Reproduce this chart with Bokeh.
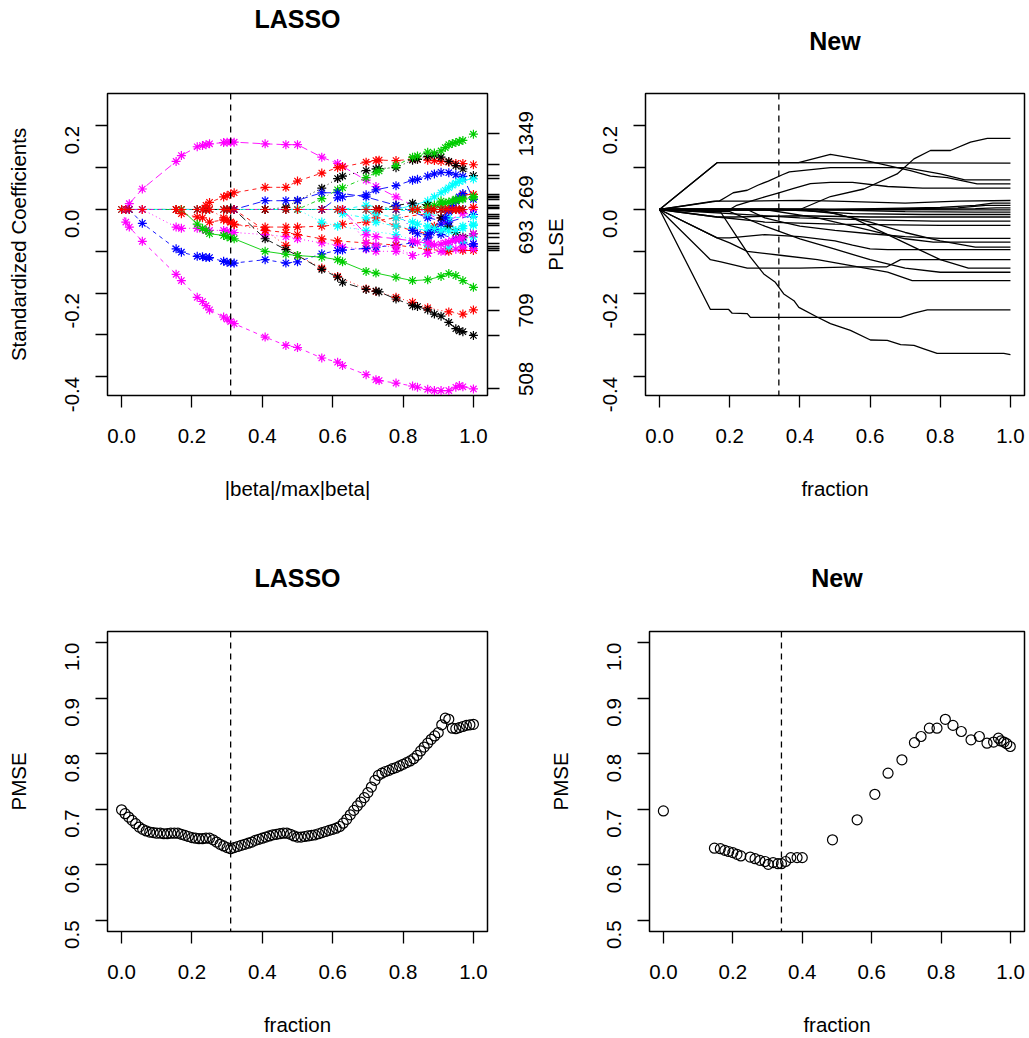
import math
from bokeh.plotting import figure
from bokeh.models import Range1d, FixedTicker, LinearAxis, Span
from bokeh.layouts import column, row
from bokeh.core.properties import value
from bokeh.embed import file_html
from bokeh.resources import INLINE

FONT = "Liberation Sans"
TXT = "20.5px"

# ---------------- data ----------------
x_ticks = [0.0, 0.2, 0.4, 0.6, 0.8, 1.0]
x_tick_labels = ["0.0", "0.2", "0.4", "0.6", "0.8", "1.0"]
coef_ticks = [-0.4, -0.3, -0.2, -0.1, 0.0, 0.1, 0.2]
coef_tick_labels = ["-0.4", "", "-0.2", "", "0.0", "", "0.2"]
pmse_ticks = [0.5, 0.6, 0.7, 0.8, 0.9, 1.0]
pmse_tick_labels = ["0.5", "0.6", "0.7", "0.8", "0.9", "1.0"]

lasso_cut = 0.31
new_cut = 0.34

# right axis of the LASSO path plot
plse_ticks = [0.181, 0.1076, 0.081, 0.073, 0.036, 0.031, 0.028, 0.024, 0.0096, 0.0056,
              0.0016, -0.012, -0.0167, -0.022, -0.0327, -0.038, -0.058, -0.066, -0.082,
              -0.088, -0.094, -0.098, -0.186, -0.2415, -0.301, -0.427]
plse_label_at = [0.181, 0.041, -0.066, -0.2415, -0.405]
plse_label_text = ["1349", "269", "693", "709", "508"]

# LASSO coefficient paths (breakpoints)
lasso_zero_x = [0.0, 0.012, 0.022, 0.059, 0.155, 0.17, 0.215, 0.23, 0.24, 0.25, 0.29, 0.30,
                0.31, 0.32, 0.408, 0.467, 0.5, 0.569, 0.614, 0.628, 0.695, 0.723, 0.732,
                0.78, 0.827, 0.841, 0.87, 0.88, 0.889, 0.908, 0.92, 0.93, 0.94, 0.95, 0.96, 0.97]

v01_x = [0.0, 0.012, 0.022, 0.059, 0.155, 0.17, 0.215, 0.23, 0.24, 0.25, 0.29, 0.30, 0.31, 0.32,
         0.408, 0.467, 0.5, 0.569, 0.614, 0.628, 0.695, 0.723, 0.78, 0.827, 0.87, 0.92, 0.97, 1.0]
v01_y = [0.0, 0.0, 0.014, 0.049, 0.115, 0.129, 0.150, 0.153, 0.155, 0.157, 0.160, 0.161, 0.161, 0.161,
         0.157, 0.155, 0.155, 0.125, 0.110, 0.103, 0.070, 0.055, 0.030, 0.010, -0.010, -0.030, -0.010, 0.0]
v02_x = [0.0, 0.012, 0.022, 0.059, 0.155, 0.17, 0.215, 0.23, 0.24, 0.25, 0.29, 0.30, 0.31, 0.32,
         0.408, 0.467, 0.5, 0.569, 0.614, 0.628, 0.695, 0.723, 0.732, 0.78, 0.827, 0.841, 0.87,
         0.889, 0.908, 0.93, 0.95, 0.96, 0.97, 1.0]
v02_y = [0.0, -0.030, -0.042, -0.076, -0.155, -0.170, -0.210, -0.220, -0.230, -0.240, -0.257, -0.262,
         -0.268, -0.273, -0.305, -0.325, -0.330, -0.355, -0.365, -0.373, -0.395, -0.407, -0.409,
         -0.415, -0.422, -0.425, -0.430, -0.433, -0.433, -0.433, -0.425, -0.421, -0.424, -0.429]
v03_x = [0.0, 0.059, 0.155, 0.17, 0.215, 0.23, 0.24, 0.25, 0.29, 0.30, 0.31, 0.32, 0.408, 0.467,
         0.5, 0.569, 0.614, 0.628, 0.695, 0.723, 0.78, 0.827, 0.87, 0.92, 0.97, 1.0]
v03_y = [0.0, 0.0, -0.042, -0.045, -0.045, -0.047, -0.050, -0.050, -0.050, -0.052, -0.055, -0.055,
         -0.060, -0.065, -0.070, -0.080, -0.085, -0.090, -0.095, -0.100, -0.100, -0.110, -0.105,
         -0.100, -0.095, -0.082]
v04_x = [0.0, 0.022, 0.059, 0.155, 0.17, 0.215, 0.23, 0.24, 0.25, 0.29, 0.30, 0.31, 0.32, 0.408,
         0.467, 0.5, 0.569, 0.614, 0.628, 0.695, 0.723, 0.78, 0.827, 0.87, 0.908, 0.95, 0.97, 1.0]
v04_y = [0.0, 0.0, -0.033, -0.094, -0.102, -0.112, -0.113, -0.115, -0.115, -0.124, -0.126, -0.128,
         -0.128, -0.120, -0.128, -0.125, -0.106, -0.098, -0.097, -0.093, -0.090, -0.085, -0.080,
         -0.070, -0.060, -0.070, -0.080, -0.088]
v05_x = [0.0, 0.23, 0.24, 0.25, 0.29, 0.30, 0.31, 0.32, 0.408, 0.467, 0.5, 0.569, 0.614, 0.628,
         0.695, 0.723, 0.732, 0.78, 0.827, 0.841, 0.87, 0.889, 0.908, 0.93, 0.95, 0.97, 1.0]
v05_y = [0.0, 0.0, 0.010, 0.017, 0.030, 0.033, 0.037, 0.040, 0.053, 0.053, 0.068, 0.087, 0.100,
         0.102, 0.113, 0.117, 0.118, 0.117, 0.120, 0.120, 0.118, 0.117, 0.115, 0.113, 0.110, 0.110, 0.107]
v06_x = [0.0, 0.408, 0.467, 0.5, 0.569, 0.614, 0.628, 0.695, 0.723, 0.732, 0.78, 0.827, 0.841,
         0.87, 0.889, 0.908, 0.93, 0.95, 0.97, 1.0]
v06_y = [0.0, 0.0, 0.005, 0.021, 0.051, 0.074, 0.080, 0.093, 0.097, 0.098, 0.100, 0.118, 0.120,
         0.127, 0.130, 0.125, 0.115, 0.105, 0.097, 0.081]
v07_x = [0.0, 0.5, 0.569, 0.614, 0.628, 0.695, 0.723, 0.732, 0.78, 0.827, 0.841, 0.87, 0.889,
         0.908, 0.92, 0.93, 0.94, 0.95, 0.96, 0.97, 1.0]
v07_y = [0.0, 0.0, 0.026, 0.047, 0.052, 0.076, 0.089, 0.092, 0.105, 0.125, 0.128, 0.137, 0.135,
         0.140, 0.148, 0.155, 0.158, 0.160, 0.163, 0.165, 0.180]
v08_x = [0.0, 0.569, 0.614, 0.628, 0.695, 0.723, 0.78, 0.827, 0.841, 0.87, 0.889, 0.908, 0.93,
         0.95, 0.97, 1.0]
v08_y = [0.0, 0.0, 0.028, 0.030, 0.035, 0.047, 0.057, 0.070, 0.072, 0.080, 0.085, 0.089, 0.088,
         0.083, 0.079, 0.024]
v09_x = [0.0, 0.78, 0.827, 0.87, 0.889, 0.908, 0.92, 0.93, 0.94, 0.95, 0.96, 0.97, 1.0]
v09_y = [0.0, 0.0, 0.010, 0.020, 0.030, 0.040, 0.046, 0.052, 0.058, 0.063, 0.067, 0.070, 0.073]
v10_x = [0.0, 0.695, 0.723, 0.78, 0.827, 0.87, 0.889, 0.908, 0.93, 0.95, 0.97, 1.0]
v10_y = [0.0, 0.0, -0.020, -0.040, -0.050, -0.058, -0.040, -0.020, 0.0, 0.020, 0.035, 0.036]
v11_x = [0.0, 0.827, 0.87, 0.908, 0.95, 0.97, 1.0]
v11_y = [0.0, 0.0, 0.010, 0.020, 0.025, 0.027, 0.028]
v12_x = [0.0, 0.155, 0.17, 0.215, 0.23, 0.25, 0.29, 0.31, 0.32, 0.408, 0.467, 0.5, 0.569, 0.628,
         0.695, 0.78, 0.87, 0.95, 1.0]
v12_y = [0.0, 0.0, -0.010, -0.018, -0.020, -0.030, -0.025, -0.030, -0.036, -0.042, -0.042, -0.042,
         -0.040, -0.035, -0.030, -0.020, -0.010, 0.0, 0.005]
v13_x = [0.0, 0.614, 0.628, 0.695, 0.723, 0.78, 0.827, 0.87, 0.92, 0.97, 1.0]
v13_y = [0.0, 0.0, -0.010, -0.020, -0.030, -0.040, -0.045, -0.050, -0.045, -0.040, -0.035]
v14_x = [0.0, 0.25, 0.29, 0.30, 0.31, 0.32, 0.408, 0.467, 0.5, 0.569, 0.614, 0.695, 0.723, 0.78,
         0.827, 0.87, 0.93, 0.97, 1.0]
v14_y = [0.0, 0.0, -0.020, -0.025, -0.030, -0.035, -0.050, -0.086, -0.110, -0.140, -0.160, -0.190,
         -0.196, -0.210, -0.222, -0.235, -0.245, -0.250, -0.240]
v15_x = [0.0, 0.32, 0.408, 0.467, 0.5, 0.569, 0.614, 0.628, 0.695, 0.723, 0.732, 0.78, 0.827,
         0.841, 0.87, 0.889, 0.908, 0.93, 0.95, 0.96, 0.97, 1.0]
v15_y = [0.0, 0.0, -0.070, -0.096, -0.110, -0.143, -0.162, -0.174, -0.191, -0.195, -0.197, -0.214,
         -0.230, -0.232, -0.240, -0.250, -0.255, -0.270, -0.285, -0.290, -0.292, -0.301]
v16_x = [0.0, 0.17, 0.215, 0.23, 0.24, 0.25, 0.29, 0.30, 0.31, 0.32, 0.408, 0.467, 0.5, 0.569,
         0.614, 0.628, 0.695, 0.723, 0.78, 0.827, 0.87, 0.908, 0.93, 0.95, 0.97, 1.0]
v16_y = [0.0, 0.0, -0.035, -0.045, -0.050, -0.058, -0.062, -0.065, -0.068, -0.070, -0.100, -0.107,
         -0.110, -0.114, -0.120, -0.125, -0.148, -0.152, -0.162, -0.170, -0.168, -0.160, -0.153,
         -0.158, -0.170, -0.186]
v17_x = [0.0, 0.32, 0.408, 0.467, 0.5, 0.569, 0.614, 0.695, 0.78, 0.87, 0.93, 0.97, 1.0]
v17_y = [0.0, 0.0, -0.050, -0.055, -0.060, -0.070, -0.075, -0.080, -0.085, -0.095, -0.100, -0.098, -0.098]
v18_x = [0.0, 0.5, 0.569, 0.614, 0.695, 0.78, 0.87, 0.93, 0.97, 1.0]
v18_y = [0.0, 0.0, -0.030, -0.040, -0.050, -0.060, -0.085, -0.090, -0.075, -0.066]
v19_x = [0.0, 0.732, 0.78, 0.827, 0.87, 0.908, 0.93, 0.95, 0.97, 1.0]
v19_y = [0.0, 0.0, 0.010, 0.015, 0.010, -0.020, -0.040, -0.055, -0.066, -0.058]
v20_x = [0.0, 0.32, 0.408, 0.467, 0.5, 0.569, 0.614, 0.695, 0.78, 0.87, 0.93, 1.0]
v20_y = [0.0, 0.0, 0.021, 0.021, 0.022, 0.040, 0.040, 0.030, 0.010, -0.020, -0.030, -0.012]
v21_x = [0.0, 0.628, 0.695, 0.723, 0.78, 0.827, 0.87, 0.908, 0.95, 0.97, 1.0]
v21_y = [0.0, 0.0, -0.080, -0.085, -0.090, -0.110, -0.105, -0.100, -0.095, -0.090, -0.094]
v22_x = [0.0, 0.628, 0.695, 0.78, 0.87, 0.93, 1.0]
v22_y = [0.0, 0.0, 0.010, 0.0, -0.010, -0.020, -0.017]
v23_x = [0.0, 0.78, 0.827, 0.841, 0.87, 0.88, 0.889, 0.908, 0.92, 0.93, 0.94, 0.95, 0.96, 0.97, 1.0]
v23_y = [0.0, 0.0, -0.050, -0.058, -0.060, -0.055, -0.048, -0.035, -0.020, -0.005, 0.010, 0.020,
         0.030, 0.038, -0.082]
v24_x = [0.0, 0.628, 0.695, 0.723, 0.78, 0.827, 0.841, 0.87, 0.88, 0.889, 0.908, 0.92, 0.93, 0.94,
         0.95, 0.96, 0.97, 1.0]
v24_y = [0.0, 0.0, -0.060, -0.065, -0.070, -0.075, -0.078, -0.080, -0.082, -0.085, -0.083, -0.080,
         -0.078, -0.075, -0.072, -0.070, -0.068, -0.058]
v25_x = [0.0, 0.695, 0.723, 0.78, 0.827, 0.841, 0.87, 0.889, 0.908, 0.93, 0.95, 0.97, 1.0]
v25_y = [0.0, 0.0, -0.010, -0.020, -0.030, -0.035, -0.040, -0.045, -0.050, -0.052, -0.050, -0.045, -0.038]
v26_x = [0.0, 0.841, 0.87, 0.889, 0.908, 0.92, 0.93, 0.94, 0.95, 0.96, 0.97, 1.0]
v26_y = [0.0, 0.0, 0.005, 0.010, 0.012, 0.015, 0.018, 0.020, 0.022, 0.024, 0.025, 0.031]

lasso_vars_x = [v01_x, v02_x, v03_x, v04_x, v05_x, v06_x, v07_x, v08_x, v09_x, v10_x, v11_x,
                v12_x, v13_x, v14_x, v15_x, v16_x, v17_x, v18_x, v19_x, v20_x, v21_x, v22_x,
                v23_x, v24_x, v25_x, v26_x]
lasso_vars_y = [v01_y, v02_y, v03_y, v04_y, v05_y, v06_y, v07_y, v08_y, v09_y, v10_y, v11_y,
                v12_y, v13_y, v14_y, v15_y, v16_y, v17_y, v18_y, v19_y, v20_y, v21_y, v22_y,
                v23_y, v24_y, v25_y, v26_y]
lasso_colors = ["#FF00FF", "#FF00FF", "#FF00FF", "#0000FF", "#FF0000", "#000000", "#00CD00",
                "#0000FF", "#00FFFF", "#FF0000", "#00CD00", "#FF0000", "#00FFFF", "#FF0000",
                "#000000", "#00CD00", "#FF0000", "#00FFFF", "#000000", "#0000FF", "#FF00FF",
                "#00FFFF", "#0000FF", "#FF00FF", "#00FFFF", "#00CD00"]
lasso_dashes = ["8 4", "4 4", "1 3", "4 4", "4 4", "1 3", "1 3 4 3", "8 4", "solid", "4 4",
                "1 3", "4 4", "1 3 4 3", "1 3", "8 4", "solid", "4 4", "1 3", "1 3 4 3", "8 4",
                "1 3", "4 4", "1 3", "8 4", "4 4", "1 3"]

# "New" paths
n01_x = [0, 0.40, 0.487, 0.582, 0.677, 0.725, 0.772, 0.829, 0.886, 0.934, 1.0]
n01_y = [0, 0.0, 0.031, 0.049, 0.085, 0.121, 0.141, 0.141, 0.161, 0.170, 0.170]
n02_x = [0, 0.164, 1.0]
n02_y = [0, 0.112, 0.111]
n03_x = [0, 0.164, 0.396, 0.487, 0.582, 0.715, 0.772, 0.82, 0.905, 1.0]
n03_y = [0, 0.112, 0.112, 0.132, 0.118, 0.093, 0.080, 0.076, 0.061, 0.061]
n04_x = [0, 0.155, 0.17, 0.19, 0.21, 0.25, 0.28, 0.31, 0.35, 0.37, 0.487, 0.60, 0.70, 0.80, 0.87, 1.0]
n04_y = [0, 0.02, 0.02, 0.03, 0.04, 0.046, 0.058, 0.068, 0.083, 0.09, 0.1, 0.1, 0.1, 0.085, 0.071, 0.071]
n05_x = [0, 0.2, 0.22, 0.26, 0.3, 0.34, 0.38, 0.43, 0.487, 0.55, 0.65, 0.75, 1.0]
n05_y = [0, 0.0, 0.01, 0.02, 0.03, 0.04, 0.05, 0.062, 0.065, 0.065, 0.055, 0.051, 0.051]
n06_x = [0, 0.164, 0.25, 0.4, 0.5, 0.7, 0.85, 1.0]
n06_y = [0, 0.02, 0.02, 0.022, 0.02, 0.015, 0.02, 0.0215]
n07_x = [0, 0.5, 0.8, 0.9, 0.95, 1.0]
n07_y = [0, 0.0, 0.005, 0.01, 0.015, 0.015]
n08_x = [0, 0.6, 0.85, 0.93, 1.0]
n08_y = [0, 0.0, 0.004, 0.0096, 0.0096]
n09_x = [0, 0.7, 0.9, 0.96, 1.0]
n09_y = [0, 0.0, 0.002, 0.004, 0.004]
n10_x = [0, 1.0]
n10_y = [0, -0.0008]
n11_x = [0, 0.45, 0.7, 0.9, 1.0]
n11_y = [0, 0.0, -0.005, -0.0064, -0.0064]
n12_x = [0, 0.35, 0.55, 0.75, 1.0]
n12_y = [0, 0.0, -0.01, -0.012, -0.012]
n13_x = [0, 0.164, 0.215, 0.4, 0.6, 0.8, 1.0]
n13_y = [0, -0.018, -0.018, -0.015, -0.018, -0.018, -0.018]
n14_x = [0, 0.2, 0.4, 0.6, 0.78, 1.0]
n14_y = [0, -0.01, -0.02, -0.025, -0.028, -0.028]
n15_x = [0, 0.164, 0.3, 0.5, 0.8, 1.0]
n15_y = [0, -0.018, -0.03, -0.035, -0.038, -0.038]
n16_x = [0, 0.25, 0.3, 0.35, 0.4, 0.5, 0.6, 0.7, 0.8, 1.0]
n16_y = [0, 0.0, -0.02, -0.03, -0.04, -0.05, -0.058, -0.065, -0.069, -0.069]
n17_x = [0, 0.3, 0.45, 0.6, 0.7, 0.78, 1.0]
n17_y = [0, 0.0, -0.02, -0.05, -0.07, -0.078, -0.078]
n18_x = [0, 0.4, 0.5, 0.6, 0.7, 0.8, 0.9, 1.0]
n18_y = [0, 0.0, -0.01, -0.03, -0.055, -0.075, -0.09, -0.09]
n19_x = [0, 0.164, 0.2, 0.3, 0.4, 0.5, 0.55, 0.6, 0.65, 1.0]
n19_y = [0, -0.068, -0.068, -0.06, -0.065, -0.075, -0.085, -0.094, -0.096, -0.096]
n20_x = [0, 0.145, 0.175, 0.25, 0.4, 0.56, 0.648, 0.687, 1.0]
n20_y = [0, -0.12, -0.125, -0.14, -0.14, -0.137, -0.137, -0.12, -0.12]
n21_x = [0, 0.45, 0.55, 0.65, 0.75, 0.8, 0.88, 1.0]
n21_y = [0, 0.0, -0.02, -0.06, -0.1, -0.12, -0.14, -0.14]
n22_x = [0, 0.2, 0.3, 0.4, 0.5, 0.6, 0.7, 0.8, 1.0]
n22_y = [0, -0.005, -0.04, -0.07, -0.095, -0.12, -0.14, -0.15, -0.15]
n23_x = [0, 0.164, 0.2, 0.25, 0.35, 0.45, 0.55, 0.65, 0.72, 1.0]
n23_y = [0, -0.068, -0.08, -0.1, -0.11, -0.12, -0.135, -0.15, -0.17, -0.17]
n24_x = [0, 0.145, 0.197, 0.207, 0.25, 0.259, 0.544, 0.687, 0.725, 0.763, 1.0]
n24_y = [0, -0.239, -0.239, -0.248, -0.249, -0.258, -0.258, -0.258, -0.248, -0.24, -0.24]
n25_x = [0, 0.174, 0.221, 0.259, 0.297, 0.33, 0.354, 0.383, 0.397, 0.449, 0.487, 0.544, 0.601,
         0.649, 0.687, 0.725, 0.753, 0.791, 0.981, 1.0]
n25_y = [0, -0.006, -0.066, -0.114, -0.154, -0.174, -0.202, -0.218, -0.234, -0.257, -0.273, -0.289,
         -0.312, -0.313, -0.323, -0.325, -0.333, -0.344, -0.344, -0.347]

new_paths_x = [n01_x, n02_x, n03_x, n04_x, n05_x, n06_x, n07_x, n08_x, n09_x, n10_x, n11_x, n12_x,
               n13_x, n14_x, n15_x, n16_x, n17_x, n18_x, n19_x, n20_x, n21_x, n22_x, n23_x, n24_x, n25_x]
new_paths_y = [n01_y, n02_y, n03_y, n04_y, n05_y, n06_y, n07_y, n08_y, n09_y, n10_y, n11_y, n12_y,
               n13_y, n14_y, n15_y, n16_y, n17_y, n18_y, n19_y, n20_y, n21_y, n22_y, n23_y, n24_y, n25_y]

# PMSE curves
lasso_frac = [0.00, 0.01, 0.02, 0.03, 0.04, 0.05, 0.06, 0.07, 0.08, 0.09,
              0.10, 0.11, 0.12, 0.13, 0.14, 0.15, 0.16, 0.17, 0.18, 0.19,
              0.20, 0.21, 0.22, 0.23, 0.24, 0.25, 0.26, 0.27, 0.28, 0.29,
              0.30, 0.31, 0.32, 0.33, 0.34, 0.35, 0.36, 0.37, 0.38, 0.39,
              0.40, 0.41, 0.42, 0.43, 0.44, 0.45, 0.46, 0.47, 0.48, 0.49,
              0.50, 0.51, 0.52, 0.53, 0.54, 0.55, 0.56, 0.57, 0.58, 0.59,
              0.60, 0.61, 0.62, 0.63, 0.64, 0.65, 0.66, 0.67, 0.68, 0.69,
              0.70, 0.71, 0.72, 0.73, 0.74, 0.75, 0.76, 0.77, 0.78, 0.79,
              0.80, 0.81, 0.82, 0.83, 0.84, 0.85, 0.86, 0.87, 0.88, 0.89,
              0.90, 0.91, 0.92, 0.93, 0.94, 0.95, 0.96, 0.97, 0.98, 0.99, 1.00]
lasso_pmse = [0.699, 0.692, 0.686, 0.680, 0.674, 0.668, 0.664, 0.661, 0.659, 0.658,
              0.657, 0.657, 0.656, 0.656, 0.657, 0.657, 0.657, 0.655, 0.653, 0.651,
              0.649, 0.648, 0.647, 0.647, 0.648, 0.648, 0.645, 0.641, 0.637, 0.634,
              0.631, 0.629, 0.631, 0.633, 0.635, 0.637, 0.639, 0.641, 0.644, 0.646,
              0.648, 0.650, 0.652, 0.654, 0.655, 0.656, 0.657, 0.657, 0.655, 0.652,
              0.650, 0.650, 0.651, 0.652, 0.653, 0.654, 0.656, 0.658, 0.660, 0.662,
              0.664, 0.666, 0.669, 0.675, 0.682, 0.690, 0.698, 0.706, 0.713, 0.721,
              0.730, 0.740, 0.752, 0.761, 0.765, 0.768, 0.770, 0.773, 0.775, 0.778,
              0.781, 0.784, 0.787, 0.791, 0.797, 0.805, 0.812, 0.819, 0.826, 0.832,
              0.838, 0.852, 0.864, 0.862, 0.846, 0.845, 0.847, 0.849, 0.851, 0.852, 0.853]

new_frac = [0.0, 0.147, 0.164, 0.177, 0.188, 0.200, 0.212, 0.223, 0.250, 0.264, 0.278, 0.293,
            0.302, 0.316, 0.330, 0.340, 0.352, 0.367, 0.385, 0.400, 0.487, 0.558, 0.609, 0.647,
            0.687, 0.723, 0.742, 0.766, 0.788, 0.812, 0.834, 0.858, 0.886, 0.910, 0.932, 0.951,
            0.965, 0.972, 0.981, 0.989, 0.999]
new_pmse = [0.697, 0.630, 0.629, 0.626, 0.624, 0.622, 0.619, 0.616, 0.614, 0.611, 0.608, 0.606,
            0.601, 0.604, 0.602, 0.602, 0.606, 0.613, 0.613, 0.613, 0.645, 0.681, 0.727, 0.765,
            0.789, 0.820, 0.831, 0.846, 0.846, 0.862, 0.851, 0.840, 0.825, 0.831, 0.819, 0.821,
            0.828, 0.823, 0.821, 0.818, 0.813]

# ---------------- helpers ----------------
X_RANGE = (-0.04, 1.04)
COEF_RANGE = (-0.4447, 0.2773)
PMSE_RANGE = (0.48, 1.02)


def make_fig(width, height, left, right, top, bottom, yr):
    p = figure(width=width, height=height, x_range=Range1d(*X_RANGE), y_range=Range1d(*yr),
               output_backend="svg", toolbar_location=None, title_location=None,
               min_border_left=left, min_border_right=right,
               min_border_top=top, min_border_bottom=bottom)
    p.outline_line_color = "black"
    p.outline_line_width = 1.5
    p.xgrid.visible = False
    p.ygrid.visible = False
    p.background_fill_color = "white"
    p.border_fill_color = "white"
    return p


def add_title(p, text, standoff):
    ax = LinearAxis(ticker=FixedTicker(ticks=[], minor_ticks=[]))
    ax.axis_line_color = None
    ax.major_tick_line_color = None
    ax.minor_tick_line_color = None
    ax.major_tick_out = 0
    ax.major_tick_in = 0
    ax.major_label_standoff = 0
    ax.axis_label = text
    ax.axis_label_text_font = FONT
    ax.axis_label_text_font_size = "25px"
    ax.axis_label_text_font_style = "bold"
    ax.axis_label_text_color = "black"
    ax.axis_label_standoff = standoff
    p.add_layout(ax, "above")


def style_axis(ax, ticks, labels, label, tick_standoff, label_standoff, vertical):
    ax.ticker = FixedTicker(ticks=ticks, minor_ticks=[])
    ax.major_label_overrides = {t: s for t, s in zip(ticks, labels)}
    ax.axis_line_color = None
    ax.major_tick_line_color = "black"
    ax.major_tick_line_width = 1.3
    ax.major_tick_in = 0
    ax.major_tick_out = 12
    ax.minor_tick_line_color = None
    ax.major_label_text_font = FONT
    ax.major_label_text_font_size = TXT
    ax.major_label_text_color = "black"
    ax.major_label_standoff = tick_standoff
    if vertical:
        ax.major_label_orientation = math.pi / 2
    if label is not None:
        ax.axis_label = label
        ax.axis_label_text_font = FONT
        ax.axis_label_text_font_size = TXT
        ax.axis_label_text_font_style = "normal"
        ax.axis_label_text_color = "black"
        ax.axis_label_standoff = label_standoff


def vline(p, x):
    p.add_layout(Span(location=x, dimension="height", line_color="black",
                      line_dash="6 5", line_width=1.3))


def setup(p, title, title_standoff, xlabel, ylabel, yticks, ylabels):
    bottom_axis = p.below[0]
    left_axis = p.left[0]
    style_axis(bottom_axis, x_ticks, x_tick_labels, xlabel, 21, 31, False)
    style_axis(left_axis, yticks, ylabels, ylabel, 23, 26, True)
    add_title(p, title, title_standoff)


# ---------------- top-left: LASSO paths ----------------
pA = make_fig(507, 528, 107, 20, 93, 133, COEF_RANGE)
setup(pA, "LASSO", 61, "|beta|/max|beta|", "Standardized Coefficients", coef_ticks, coef_tick_labels)
rax = LinearAxis()
style_axis(rax, plse_ticks, [""] * len(plse_ticks), None, 0, 0, False)
pA.add_layout(rax, "right")

pA.line([lasso_zero_x[0], 1.0], [0.0, 0.0], line_color="black", line_dash="1 3", line_width=1)
for xs, ys, c, d in zip(lasso_vars_x, lasso_vars_y, lasso_colors, lasso_dashes):
    pA.line(xs, ys, line_color=c, line_dash=d, line_width=0.9)
zeros = [0.0] * len(lasso_zero_x)
pA.scatter(lasso_zero_x, zeros, marker="asterisk", size=9, line_color="black", line_width=1.2)
for xs, ys, c in zip(lasso_vars_x, lasso_vars_y, lasso_colors):
    pA.scatter(xs[1:], ys[1:], marker="asterisk", size=9, line_color=c, line_width=1.2)
pA.scatter(lasso_zero_x, zeros, marker="asterisk", size=9, line_color="#FF0000", line_width=1.0)
vline(pA, lasso_cut)

# ---------------- narrow strip: PLSE labels of the right axis ----------------
# (row layout aligns this strip's frame with the LASSO frame, so it shares its y range)
pR = figure(width=63, height=528, x_range=Range1d(0, 63), y_range=pA.y_range,
            output_backend="svg", toolbar_location=None, title_location=None,
            x_axis_type=None, y_axis_type=None,
            min_border_left=0, min_border_right=0, min_border_top=93,
            min_border_bottom=133)
pR.outline_line_color = None
pR.xgrid.visible = False
pR.ygrid.visible = False
pR.background_fill_color = "white"
pR.border_fill_color = "white"
pR.text(x=[18] * len(plse_label_at), y=plse_label_at, text=plse_label_text, angle=math.pi / 2,
        text_align="center", text_baseline="middle", text_font=value(FONT),
        text_font_size=value(TXT), text_color="black")
pR.text(x=[48], y=[(COEF_RANGE[0] + COEF_RANGE[1]) / 2], text=["PLSE"], angle=math.pi / 2,
        text_align="center", text_baseline="middle", text_font=value(FONT),
        text_font_size=value(TXT), text_color="black")

# ---------------- top-right: New paths ----------------
pB = make_fig(457, 528, 75, 3, 93, 133, COEF_RANGE)
setup(pB, "New", 39, "fraction", None, coef_ticks, coef_tick_labels)
for xs, ys in zip(new_paths_x, new_paths_y):
    pB.line(xs, ys, line_color="black", line_width=1.3)
vline(pB, new_cut)

# ---------------- bottom-left: LASSO PMSE ----------------
pC = make_fig(545, 510, 107, 58, 103, 105, PMSE_RANGE)
setup(pC, "LASSO", 40, "fraction", "PMSE", pmse_ticks, pmse_tick_labels)
pC.scatter(lasso_frac, lasso_pmse, marker="circle", size=10, fill_color=None,
           line_color="black", line_width=1.2)
vline(pC, lasso_cut)

# ---------------- bottom-right: New PMSE ----------------
pD = make_fig(482, 510, 100, 3, 103, 105, PMSE_RANGE)
setup(pD, "New", 40, "fraction", "PMSE", pmse_ticks, pmse_tick_labels)
pD.scatter(new_frac, new_pmse, marker="circle", size=10, fill_color=None,
           line_color="black", line_width=1.2)
vline(pD, new_cut)

layout = column(row(pA, pR, pB), row(pC, pD))
open("out.html", "w").write(file_html(layout, INLINE))
